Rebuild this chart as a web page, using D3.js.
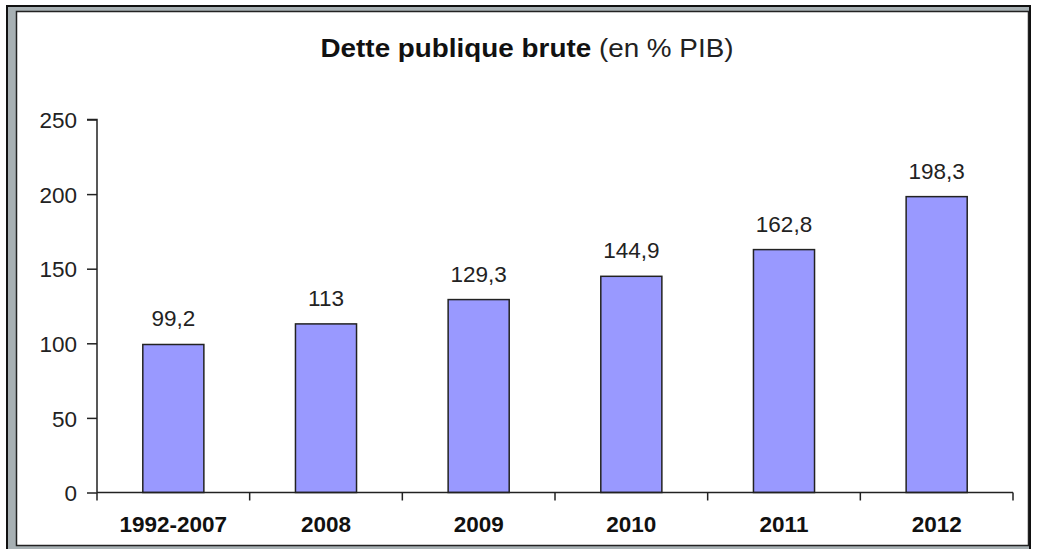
<!DOCTYPE html>
<html><head><meta charset="utf-8">
<script src="https://cdn.jsdelivr.net/npm/d3@7"></script>
<style>html,body{margin:0;padding:0;background:#fff;}svg{display:block;}</style>
</head><body>
<script>
const categories = ["1992-2007","2008","2009","2010","2011","2012"];
const values = [99.2, 113, 129.3, 144.9, 162.8, 198.3];
const valueLabels = ["99,2","113","129,3","144,9","162,8","198,3"];
const yTicks = [0, 50, 100, 150, 200, 250];

const W = 1037, H = 549;
const svg = d3.select("body").append("svg").attr("width", W).attr("height", H);
const font = "'Liberation Sans', Arial, sans-serif";

// frame
svg.append("rect").attr("x",0).attr("y",0).attr("width",W).attr("height",H).attr("fill","#fff");
svg.append("rect").attr("x",7).attr("y",6).attr("width",1023).attr("height",548).attr("fill","#a7b0b3").attr("stroke","#111").attr("stroke-width",2);
svg.append("rect").attr("x",16.5).attr("y",11.5).attr("width",1012).attr("height",534).attr("fill","#fff").attr("stroke","#222").attr("stroke-width",1.5);

const x0 = 97, x1 = 1013, yTop = 119.5, yBot = 492.5;
const x = d3.scaleBand().domain(categories).range([x0, x1]).padding(0);
const y = d3.scaleLinear().domain([0, 250]).range([yBot, yTop]);

const fs = 22.5;

// title
const t = svg.append("text").attr("x", 527).attr("y", 57).attr("text-anchor","middle")
  .attr("font-family", font).attr("font-size", 26).attr("fill","#111")
  .attr("textLength", 413).attr("lengthAdjust","spacingAndGlyphs");
t.append("tspan").attr("font-weight","bold").text("Dette publique brute");
t.append("tspan").attr("fill","#222").text(" (en % PIB)");

// y axis
const yAxis = d3.axisLeft(y).tickValues(yTicks).tickSize(10).tickPadding(10).tickFormat(d3.format("d"));
const gy = svg.append("g").attr("transform", `translate(${x0},0)`).call(yAxis);
gy.select(".domain").attr("d", `M-10,${yTop}H0V${yBot}`).attr("stroke","#222").attr("stroke-width",1.5);
gy.selectAll(".tick line").attr("stroke","#222").attr("stroke-width",1.5);
gy.selectAll(".tick text").attr("font-family", font).attr("font-size", fs).attr("fill","#222").attr("dy","0.36em");

// bars
const bw = x.bandwidth() * 0.4;
svg.selectAll("rect.bar").data(values).join("rect").attr("class","bar")
  .attr("x", (d,i) => x(categories[i]) + x.bandwidth()/2 - bw/2)
  .attr("y", d => y(d))
  .attr("width", bw)
  .attr("height", d => yBot - y(d))
  .attr("fill", "#9999ff").attr("stroke","#222").attr("stroke-width",1.5);

// value labels
svg.selectAll("text.val").data(values).join("text").attr("class","val")
  .attr("x", (d,i) => x(categories[i]) + x.bandwidth()/2)
  .attr("y", d => y(d) - 18)
  .attr("text-anchor","middle").attr("font-family", font).attr("font-size", fs).attr("fill","#222")
  .text((d,i) => valueLabels[i]);

// x axis
const xAxis = d3.axisBottom(x).tickSize(0).tickPadding(0);
const gx = svg.append("g").attr("transform", `translate(0,${yBot})`).call(xAxis);
gx.select(".domain").attr("d", `M${x0},0H${x1}`).attr("stroke","#222").attr("stroke-width",1.5);
gx.selectAll(".tick text").attr("font-family", font).attr("font-size", fs).attr("font-weight","bold").attr("fill","#111")
  .attr("y", 39).attr("dy", 0);
// boundary ticks
const bounds = categories.map(c => x(c)).concat([x1]);
gx.selectAll("line.bt").data(bounds).join("line").attr("class","bt")
  .attr("x1", d => d).attr("x2", d => d).attr("y1", 0).attr("y2", 8)
  .attr("stroke","#222").attr("stroke-width",1.5);
</script>
</body></html>
